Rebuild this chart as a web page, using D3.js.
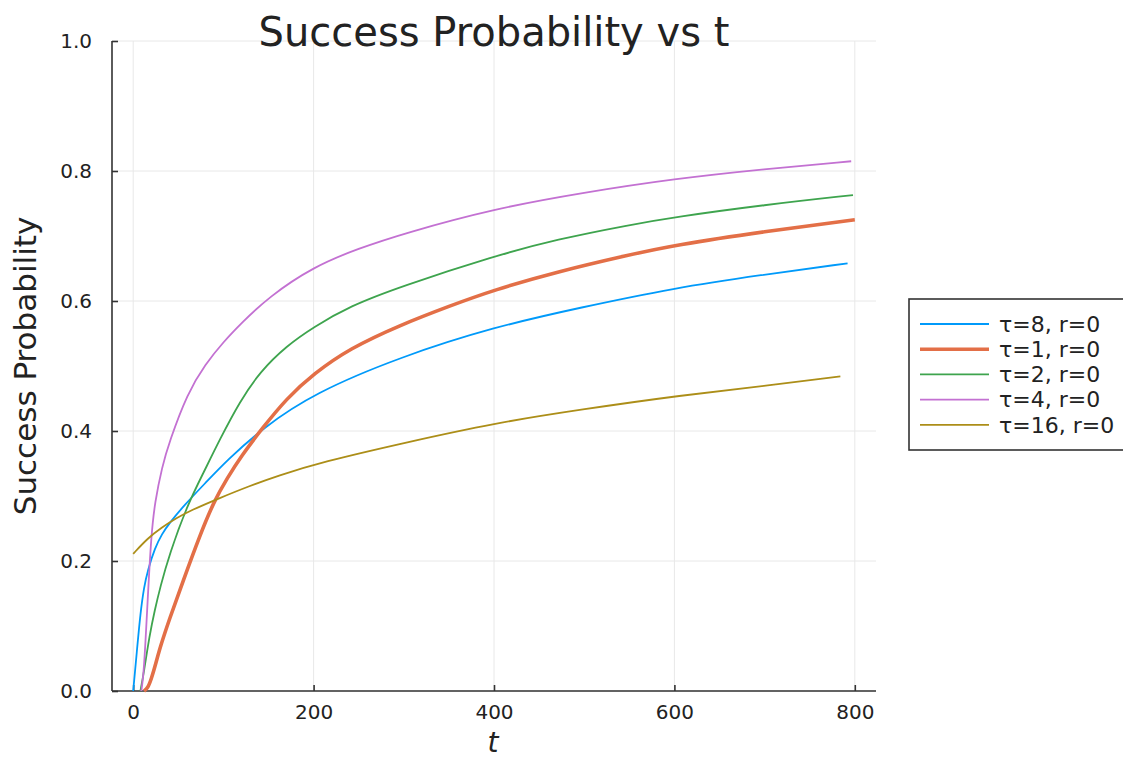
<!DOCTYPE html>
<html>
<head>
<meta charset="utf-8">
<script src="https://cdn.jsdelivr.net/npm/d3@7"></script>
<style>
  html, body { margin: 0; padding: 0; background: #fff; }
  svg { display: block; }
  text { font-family: "DejaVu Sans", sans-serif; fill: #222; }
</style>
</head>
<body>
<svg id="chart" width="1123" height="758"></svg>
<script>
// Success probability over time t for several τ values (r = 0)
const seriesLabels = ["τ=8, r=0", "τ=1, r=0", "τ=2, r=0", "τ=4, r=0", "τ=16, r=0"];
const seriesColors = ["#009AFA", "#E36F47", "#3EA44E", "#C371D2", "#AC8E18"];
const seriesWidths = [1.8, 3.6, 1.8, 1.8, 1.8];

const tau8T = [0, 4, 8, 12, 16, 24, 32, 40, 56, 80, 104, 144, 200, 296, 400, 496, 600, 696, 792];
const tau8P = [0, 0.06, 0.12, 0.16, 0.185, 0.22, 0.242, 0.258, 0.285, 0.32, 0.355, 0.405, 0.458, 0.514, 0.560, 0.590, 0.620, 0.640, 0.658];

const tau1T = [12, 16, 20, 25, 30, 40, 55, 74, 90, 104, 120, 143, 170, 200, 240, 296, 350, 400, 470, 550, 600, 700, 800];
const tau1P = [0, 0.004, 0.018, 0.042, 0.068, 0.11, 0.168, 0.24, 0.293, 0.327, 0.362, 0.404, 0.45, 0.488, 0.527, 0.563, 0.592, 0.617, 0.645, 0.671, 0.686, 0.707, 0.725];

const tau2T = [8, 12, 18, 24, 30, 40, 60, 78, 96, 118, 141, 170, 200, 240, 296, 400, 470, 550, 600, 700, 798];
const tau2P = [0, 0.03, 0.085, 0.125, 0.16, 0.21, 0.286, 0.336, 0.387, 0.445, 0.492, 0.531, 0.560, 0.592, 0.622, 0.669, 0.695, 0.717, 0.729, 0.748, 0.763];

const tau4T = [9, 12, 16, 20, 24, 32, 40, 60, 80, 100, 120, 150, 200, 250, 300, 400, 500, 600, 700, 796];
const tau4P = [0, 0.03, 0.14, 0.24, 0.29, 0.345, 0.383, 0.458, 0.503, 0.537, 0.566, 0.606, 0.653, 0.681, 0.704, 0.742, 0.767, 0.788, 0.803, 0.815];

const tau16T = [0, 16, 32, 48, 64, 96, 128, 160, 208, 304, 400, 496, 608, 704, 784];
const tau16P = [0.211, 0.235, 0.252, 0.266, 0.278, 0.297, 0.315, 0.331, 0.352, 0.383, 0.412, 0.433, 0.455, 0.470, 0.484];

const xTicks = [0, 200, 400, 600, 800];
const yTicks = [0.0, 0.2, 0.4, 0.6, 0.8, 1.0];

const series = [
  { label: seriesLabels[0], t: tau8T,  p: tau8P },
  { label: seriesLabels[1], t: tau1T,  p: tau1P },
  { label: seriesLabels[2], t: tau2T,  p: tau2P },
  { label: seriesLabels[3], t: tau4T,  p: tau4P },
  { label: seriesLabels[4], t: tau16T, p: tau16P }
];

const svg = d3.select("#chart");
const plot = { left: 112, right: 876, top: 41, bottom: 691 };

const x = d3.scaleLinear().domain([-23.5, 823.5]).range([plot.left, plot.right]);
const y = d3.scaleLinear().domain([0, 1]).range([plot.bottom, plot.top]);

// grid
const grid = svg.append("g").attr("stroke", "#e8e8e8").attr("stroke-width", 1);
grid.selectAll("line.gx").data(xTicks).join("line")
  .attr("x1", d => x(d)).attr("x2", d => x(d))
  .attr("y1", plot.top).attr("y2", plot.bottom);
grid.selectAll("line.gy").data(yTicks).join("line")
  .attr("x1", plot.left).attr("x2", plot.right)
  .attr("y1", d => y(d)).attr("y2", d => y(d));

// axes
const xAxis = d3.axisBottom(x).tickValues(xTicks).tickSize(-6).tickPadding(14).tickFormat(d3.format("d"));
const yAxis = d3.axisLeft(y).tickValues(yTicks).tickSize(-6).tickPadding(20).tickFormat(d3.format(".1f"));

const gx = svg.append("g").attr("transform", `translate(0,${plot.bottom})`).call(xAxis);
const gy = svg.append("g").attr("transform", `translate(${plot.left},0)`).call(yAxis);
[gx, gy].forEach(g => {
  g.select(".domain").attr("stroke", "#333").attr("stroke-width", 1.6);
  g.selectAll(".tick line").attr("stroke", "#333").attr("stroke-width", 1.6);
  g.selectAll(".tick text").attr("font-family", "DejaVu Sans").attr("font-size", 20).attr("fill", "#222");
});
gx.select(".domain").attr("d", `M${plot.left},0H${plot.right}`);
gy.select(".domain").attr("d", `M0,${plot.bottom}V${plot.top}`);

// curves
const line = d3.line().x(d => x(d[0])).y(d => y(d[1])).curve(d3.curveBasis);
const lines = svg.append("g").attr("fill", "none").attr("stroke-linejoin", "round");
series.forEach((s, i) => {
  lines.append("path")
    .attr("d", line(d3.zip(s.t, s.p)))
    .attr("stroke", seriesColors[i])
    .attr("stroke-width", seriesWidths[i]);
});

// title and axis labels
svg.append("text").attr("x", (plot.left + plot.right) / 2).attr("y", 46)
  .attr("text-anchor", "middle").attr("font-size", 40).text("Success Probability vs t");
svg.append("text").attr("x", 493).attr("y", 752)
  .attr("text-anchor", "middle").attr("font-family", "DejaVu Serif")
  .attr("font-style", "italic").attr("font-size", 28).text("t");
svg.append("text")
  .attr("transform", `translate(36,${(plot.top + plot.bottom) / 2}) rotate(-90)`)
  .attr("text-anchor", "middle").attr("font-size", 31).text("Success Probability");

// legend
const legend = svg.append("g");
legend.append("rect").attr("x", 909).attr("y", 299).attr("width", 220).attr("height", 151)
  .attr("fill", "#fff").attr("stroke", "#333").attr("stroke-width", 1.6);
series.forEach((s, i) => {
  const ly = 324 + i * 25.2;
  legend.append("line").attr("x1", 920).attr("x2", 989).attr("y1", ly).attr("y2", ly)
    .attr("stroke", seriesColors[i]).attr("stroke-width", seriesWidths[i]);
  legend.append("text").attr("x", 999).attr("y", ly).attr("dy", "0.35em")
    .attr("font-size", 22).text(s.label);
});
</script>
</body>
</html>
